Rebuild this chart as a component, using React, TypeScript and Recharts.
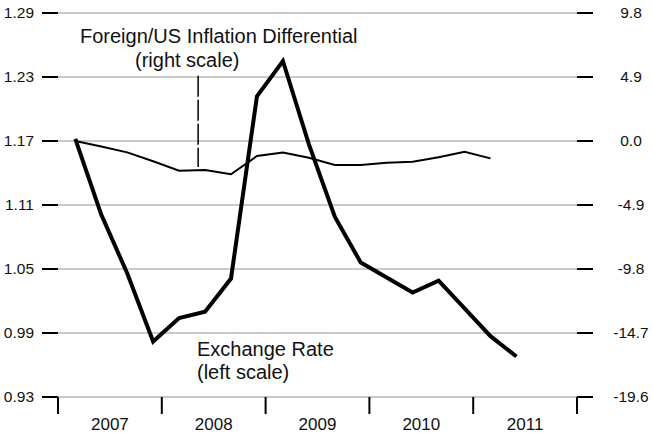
import React from 'react';
import { LineChart, Line, XAxis, YAxis, CartesianGrid, ReferenceLine } from 'recharts';

// quarterly observations (year-month)
const periods = [
  '2007-03', '2007-06', '2007-09', '2007-12',
  '2008-03', '2008-06', '2008-09', '2008-12',
  '2009-03', '2009-06', '2009-09', '2009-12',
  '2010-03', '2010-06', '2010-09', '2010-12',
  '2011-03', '2011-06',
];

// exchange rate, left scale
const exchangeRate = [
  1.172, 1.101, 1.046, 0.982, 1.004, 1.010, 1.041, 1.212, 1.245,
  1.167, 1.099, 1.056, 1.042, 1.028, 1.039, 1.013, 0.987, 0.968,
];

// foreign/US inflation differential, right scale
const inflationDiff = [
  0.0, -0.42, -0.87, -1.55, -2.27, -2.22, -2.55, -1.15, -0.89,
  -1.28, -1.84, -1.84, -1.66, -1.58, -1.25, -0.82, -1.33,
];

const leftTicks = [0.93, 0.99, 1.05, 1.11, 1.17, 1.23, 1.29];
const rightTicks = [-19.6, -14.7, -9.8, -4.9, 0.0, 4.9, 9.8];
const yearBounds = [2007, 2008, 2009, 2010, 2011, 2012];

const toYear = (p: string) => {
  const [y, m] = p.split('-').map(Number);
  return y + (m - 1) / 12;
};

const data = periods.map((p, i) => ({
  t: toYear(p),
  fx: exchangeRate[i],
  diff: i < inflationDiff.length ? inflationDiff[i] : null,
}));

const FONT = '"Liberation Sans", Arial, Helvetica, sans-serif';

const W = 653;
const H = 433;
const LEFT_W = 58;
const RIGHT_W = 76;
// half of one year's width on the x axis, for centring the year labels
const HALF_YEAR = (W - LEFT_W - RIGHT_W) / (yearBounds.length - 1) / 2;

const YearTick = (props: any) => {
  const { x, y, payload } = props;
  if (payload.value >= 2012) return <g />;
  return (
    <text x={x + HALF_YEAR} y={y} dy={16} textAnchor="middle" fontSize={17} fontFamily={FONT} fill="#111">
      {payload.value}
    </text>
  );
};

const RightTick = (props: any) => {
  const { x, y, payload } = props;
  return (
    <text x={x + 38} y={y} dy={5} textAnchor="middle" fontSize={15.5} fontFamily={FONT} fill="#111">
      {payload.value.toFixed(1)}
    </text>
  );
};

const LeftTick = (props: any) => {
  const { x, y, payload } = props;
  return (
    <text x={x} y={y} dy={5} textAnchor="end" fontSize={15.5} fontFamily={FONT} fill="#111">
      {payload.value.toFixed(2)}
    </text>
  );
};

export default function App() {
  return (
    <div style={{ position: 'absolute', left: 0, top: 0, width: W, height: H, background: '#fff' }}>
      <LineChart width={W} height={H} data={data} margin={{ top: 13, right: 0, bottom: 0, left: 0 }}>
        <CartesianGrid yAxisId="left" vertical={false} stroke="#b9b9b9" strokeWidth={1.5} />
        <XAxis
          dataKey="t"
          type="number"
          domain={[2007, 2012]}
          ticks={yearBounds}
          height={36}
          axisLine={false}
          tickSize={17}
          tickMargin={0}
          tickLine={{ stroke: '#000', strokeWidth: 2 }}
          tick={<YearTick />}
        />
        <YAxis
          yAxisId="left"
          orientation="left"
          domain={[0.93, 1.29]}
          ticks={leftTicks}
          width={LEFT_W}
          axisLine={false}
          tickSize={16}
          tickMargin={8}
          tickLine={{ stroke: '#000', strokeWidth: 2 }}
          tick={<LeftTick />}
        />
        <YAxis
          yAxisId="right"
          orientation="right"
          domain={[-19.6, 9.8]}
          ticks={rightTicks}
          width={RIGHT_W}
          axisLine={false}
          tickSize={16}
          tickMargin={0}
          tickLine={{ stroke: '#000', strokeWidth: 2 }}
          tick={<RightTick />}
        />
        <ReferenceLine
          yAxisId="right"
          segment={[{ x: 2008.35, y: 5.0 }, { x: 2008.35, y: -2.0 }]}
          stroke="#000"
          strokeWidth={1.5}
          strokeDasharray="21 3"
        />
        <Line
          yAxisId="right"
          dataKey="diff"
          stroke="#000"
          strokeWidth={2}
          dot={false}
          isAnimationActive={false}
          connectNulls={false}
        />
        <Line
          yAxisId="left"
          dataKey="fx"
          stroke="#000"
          strokeWidth={4}
          dot={false}
          isAnimationActive={false}
        />
      </LineChart>
      <svg width={W} height={H} style={{ position: 'absolute', left: 0, top: 0, pointerEvents: 'none' }}>
        <g fontFamily={FONT} fontSize={20} fill="#111">
          <text x={80} y={43}>Foreign/US Inflation Differential</text>
          <text x={135} y={67}>(right scale)</text>
          <text x={197} y={356}>Exchange Rate</text>
          <text x={197} y={379}>(left scale)</text>
        </g>
      </svg>
    </div>
  );
}
